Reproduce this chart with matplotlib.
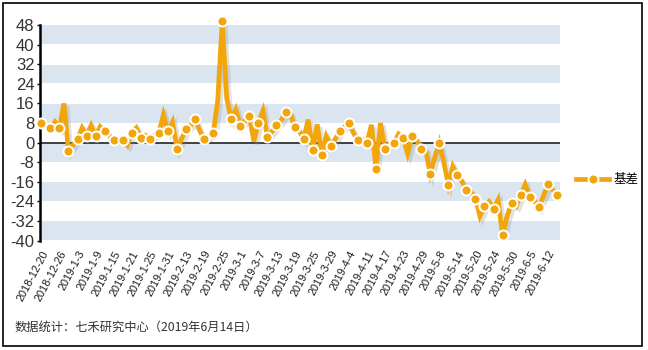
import numpy as np
import matplotlib.pyplot as plt
import matplotlib.patheffects as pe
from matplotlib.patches import Rectangle
from matplotlib.lines import Line2D

plt.rcParams['font.family'] = ['Liberation Sans', 'Noto Sans CJK SC', 'DejaVu Sans']

# 基差 (每个交易日), 2018-12-20 至 2019-6-14
basis = [
    8.0, 7.0, 6.0, 8.5, 6.0, 16.0, -3.5, -1.0, 1.5, 6.0,
    2.9, 7.0, 2.6, 6.5, 4.6, 3.0, 0.9, 1.0, 1.2, -1.0,
    4.0, 6.0, 1.9, 3.0, 1.4, 3.0, 4.0, 11.4, 4.6, 8.4,
    -2.5, 1.5, 5.5, 7.0, 9.6, 5.0, 1.4, 2.5, 3.8, 17.0,
    49.5, 18.0, 9.5, 13.5, 6.8, 9.0, 10.8, 0.5, 8.1, 13.0,
    2.2, 4.5, 7.0, 9.0, 12.4, 12.0, 6.3, 5.0, 1.3, 9.4,
    -3.0, 7.5, -4.9, 2.6, -1.2, 1.5, 4.6, 6.5, 7.9, 4.0,
    1.0, 1.5, -0.1, 7.3, -10.6, 8.0, -2.4, -0.5, 0.0, 3.5,
    1.9, -4.5, 2.6, 1.0, -2.4, -3.0, -12.7, -6.0, -0.1, -8.0,
    -17.1, -9.7, -13.3, -15.8, -19.5, -20.0, -22.8, -30.0, -25.8, -24.0,
    -26.9, -23.3, -37.7, -30.0, -24.7, -26.0, -21.4, -17.1, -22.0, -23.5,
    -26.4, -22.0, -16.8, -19.0, -21.2,
]
date_labels = [
    '2018-12-20', '2018-12-26', '2019-1-3', '2019-1-9', '2019-1-15', '2019-1-21',
    '2019-1-25', '2019-1-31', '2019-2-13', '2019-2-19', '2019-2-25', '2019-3-1',
    '2019-3-7', '2019-3-13', '2019-3-19', '2019-3-25', '2019-3-29', '2019-4-4',
    '2019-4-11', '2019-4-17', '2019-4-23', '2019-4-29', '2019-5-8', '2019-5-14',
    '2019-5-20', '2019-5-24', '2019-5-30', '2019-6-5', '2019-6-12',
]
label_step = 4
marker_step = 2
y_ticks = list(range(-40, 49, 8))

ORANGE = '#f2a60c'
BAND = '#dae5f0'

x = np.arange(len(basis))
y = np.array(basis)

fig = plt.figure(figsize=(6.48, 3.5), dpi=100)
ax = fig.add_axes([40 / 648, 1 - 240.7 / 350, 520 / 648, 215.7 / 350])

ax.set_xlim(-0.3, len(basis) - 1 + 0.7)
ax.set_ylim(-40, 48)

# bandes de fond
for lo in range(-40, 48, 16):
    ax.axhspan(lo + 0.15, lo + 8 - 0.15, color=BAND, zorder=0, lw=0)
ax.axhline(0, color='#333333', lw=1.3, zorder=1)

ax.plot(x, y, color=ORANGE, lw=3.4, solid_joinstyle='miter', zorder=3, clip_on=False,
        path_effects=[pe.SimpleLineShadow(offset=(2, -2), shadow_color='#888888', alpha=0.25),
                      pe.Normal()])
ax.plot(x[::marker_step], y[::marker_step], ls='none', marker='o', ms=7.2,
        mfc=ORANGE, mec='white', mew=1.4, zorder=4, clip_on=False)

for s in ['top', 'right', 'bottom']:
    ax.spines[s].set_visible(False)
ax.spines['left'].set_linewidth(1.8)
ax.spines['left'].set_color('black')

ax.set_yticks(y_ticks)
ax.set_yticklabels([str(v) for v in y_ticks], fontsize=12, color='#333333')
ax.tick_params(axis='y', length=2, width=1, pad=2, direction='out')

ax.set_xticks(x[::label_step])
ax.set_xticklabels(date_labels, rotation=62, ha='right', rotation_mode='anchor',
                   fontsize=7.8, color='#1a1a1a')
ax.tick_params(axis='x', length=0, pad=6)

# légende
leg_handle = Line2D([0], [0], color=ORANGE, lw=3.4, marker='o', ms=7.2,
                    mfc=ORANGE, mec='white', mew=1.4)
fig.legend([leg_handle], ['基差'], loc='center left', bbox_to_anchor=(565 / 648, 1 - 180 / 350),
           frameon=False, handlelength=2.6, handletextpad=0.4,
           prop={'family': ['Noto Sans CJK SC', 'DejaVu Sans'], 'size': 9})

fig.text(15 / 648, 1 - 327 / 350, '数据统计：七禾研究中心（2019年6月14日）',
         fontsize=8.8, color='#333333', va='center', ha='left',
         family=['Noto Sans CJK SC', 'DejaVu Sans'])

# cadre
fig.add_artist(Rectangle((3 / 648, 4 / 350), 639 / 648, 343 / 350, transform=fig.transFigure,
                         fill=False, edgecolor='black', lw=1.2))

plt.savefig('out.png', dpi=100)
